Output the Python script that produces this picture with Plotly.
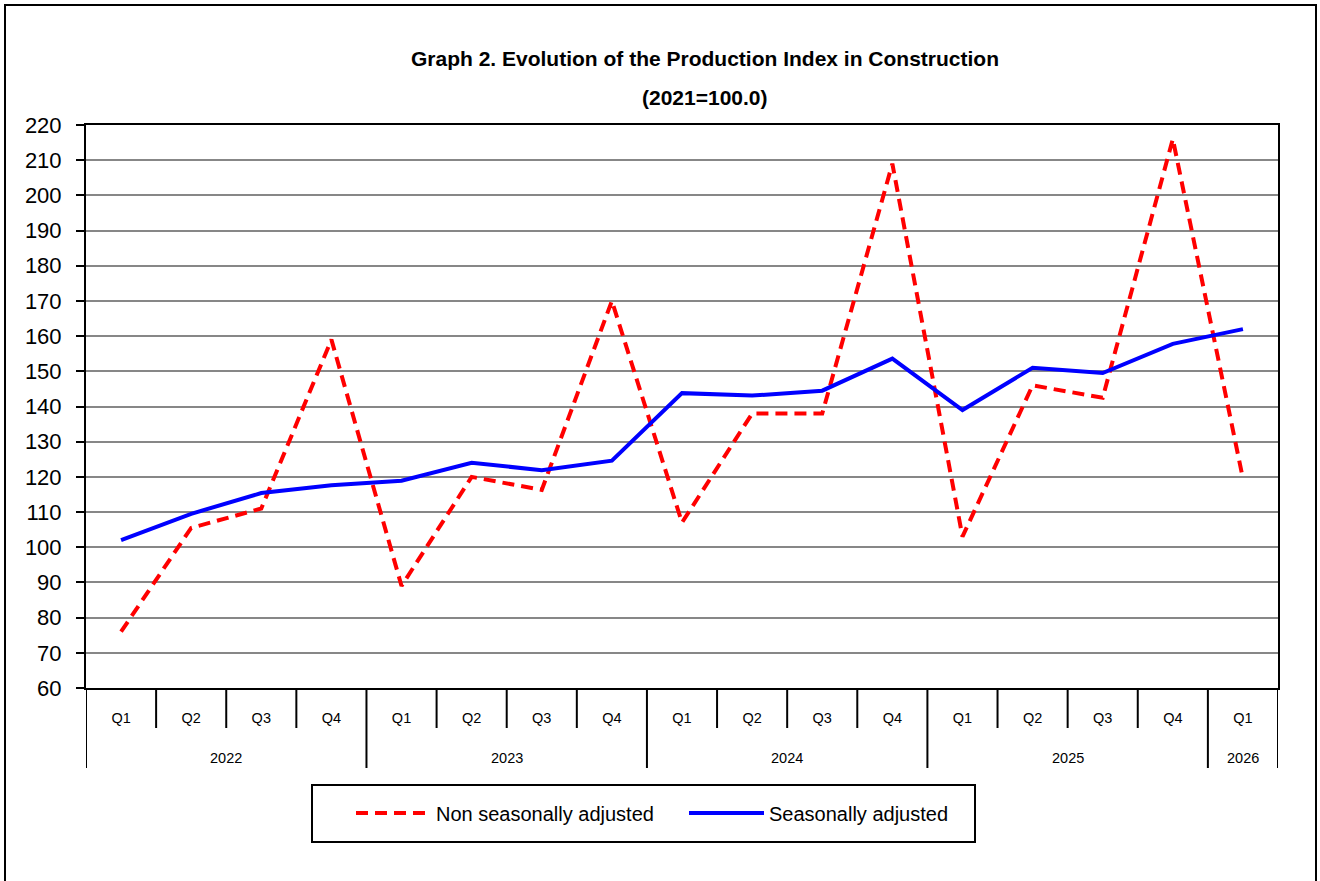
import plotly.graph_objects as go

years = ["2022"] * 4 + ["2023"] * 4 + ["2024"] * 4 + ["2025"] * 4 + ["2026"]
quarters = ["Q1", "Q2", "Q3", "Q4"] * 4 + ["Q1"]
categories = [f"{y} {q}" for y, q in zip(years, quarters)]

nsa = [76, 105.5, 111, 159, 89, 120, 116.3, 170, 107, 138, 138, 209, 103, 146, 142.5, 216, 119.5]
sa = [102, 109.5, 115.4, 117.6, 118.9, 124, 121.9, 124.6, 143.8, 143.1, 144.5, 153.6, 139, 151, 149.5, 157.8, 162]

yticks = list(range(60, 221, 10))
year_labels = ["2022", "2023", "2024", "2025", "2026"]

FONT = "Liberation Sans, Arial, sans-serif"

# plot-area geometry (px)
W, H = 1320, 881
L, R, T, B = 86, 1278, 125, 688
PW, PH = R - L, B - T


def px_x(px):
    return (px - L) / PW


def px_y(py):
    return (B - py) / PH


fig = go.Figure()
fig.add_trace(go.Scatter(
    x=categories, y=nsa, mode="lines", name="Non seasonally adjusted",
    line=dict(color="#ff0000", width=4, dash="12px,7px"),
))
fig.add_trace(go.Scatter(
    x=categories, y=sa, mode="lines", name="Seasonally adjusted",
    line=dict(color="#0000ff", width=4),
))

fig.update_layout(
    width=W, height=H,
    margin=dict(l=L, r=W - R, t=T, b=H - B, autoexpand=False),
    paper_bgcolor="white", plot_bgcolor="white",
    font=dict(family=FONT, color="black"),
    showlegend=True,
    legend=dict(
        orientation="h", x=px_x(351), xanchor="left", y=px_y(813), yanchor="middle",
        borderwidth=0, font=dict(size=20, family=FONT),
        itemwidth=75, entrywidth=243, bgcolor="rgba(0,0,0,0)",
    ),
)

fig.update_yaxes(
    range=[60, 220], tickvals=yticks, ticktext=[str(v) for v in yticks],
    showgrid=True, gridcolor="#878787", gridwidth=2,
    showline=True, linecolor="black", linewidth=2, mirror=True,
    ticks="outside", ticklen=8, tickcolor="black", tickwidth=2,
    ticklabelstandoff=10,
    tickfont=dict(size=22, family=FONT), zeroline=False,
)

# quarter level of the category axis
fig.update_xaxes(
    type="category", range=[-0.5, len(categories) - 0.5],
    tickvals=categories, ticktext=quarters, showgrid=False,
    showline=True, linecolor="black", linewidth=2, mirror=True,
    ticks="", ticklabelstandoff=16,
    tickfont=dict(size=14.5, family=FONT),
)

# year level labels, centred under each year's group of quarters
for yl in year_labels:
    idx = [i for i, y in enumerate(years) if y == yl]
    fig.add_annotation(
        text=yl, xref="x", yref="paper", x=(idx[0] + idx[-1]) / 2, y=px_y(758),
        yanchor="middle", showarrow=False, font=dict(size=14.5, family=FONT),
    )

# category dividers below the axis
short_len = 40 / PH
long_len = 80 / PH
for b in range(len(categories) + 1):
    pos = b - 0.5
    is_year_edge = b == 0 or b == len(categories) or years[b] != years[b - 1]
    fig.add_shape(
        type="line", xref="x", yref="paper", x0=pos, x1=pos,
        y0=0, y1=-(long_len if is_year_edge else short_len),
        line=dict(color="black", width=2),
    )

fig.add_annotation(
    text="<b>Graph 2. Evolution of the Production Index in Construction</b>",
    xref="paper", yref="paper", x=px_x(705), y=px_y(59), yanchor="middle",
    showarrow=False, font=dict(size=21, family=FONT),
)
fig.add_annotation(
    text="<b>(2021=100.0)</b>",
    xref="paper", yref="paper", x=px_x(705), y=px_y(97), yanchor="middle",
    showarrow=False, font=dict(size=21, family=FONT),
)

# legend box
fig.add_shape(
    type="rect", xref="paper", yref="paper",
    x0=px_x(312), x1=px_x(975), y0=px_y(842), y1=px_y(785),
    line=dict(color="black", width=2), layer="below",
)

# outer chart border
fig.add_shape(
    type="rect", xref="paper", yref="paper",
    x0=px_x(5), x1=px_x(1316), y0=px_y(895), y1=px_y(5),
    line=dict(color="black", width=2), layer="below",
)

fig.write_html(
    "out.html",
    config={"displayModeBar": False},
    post_script="document.body.style.margin='0';",
)
